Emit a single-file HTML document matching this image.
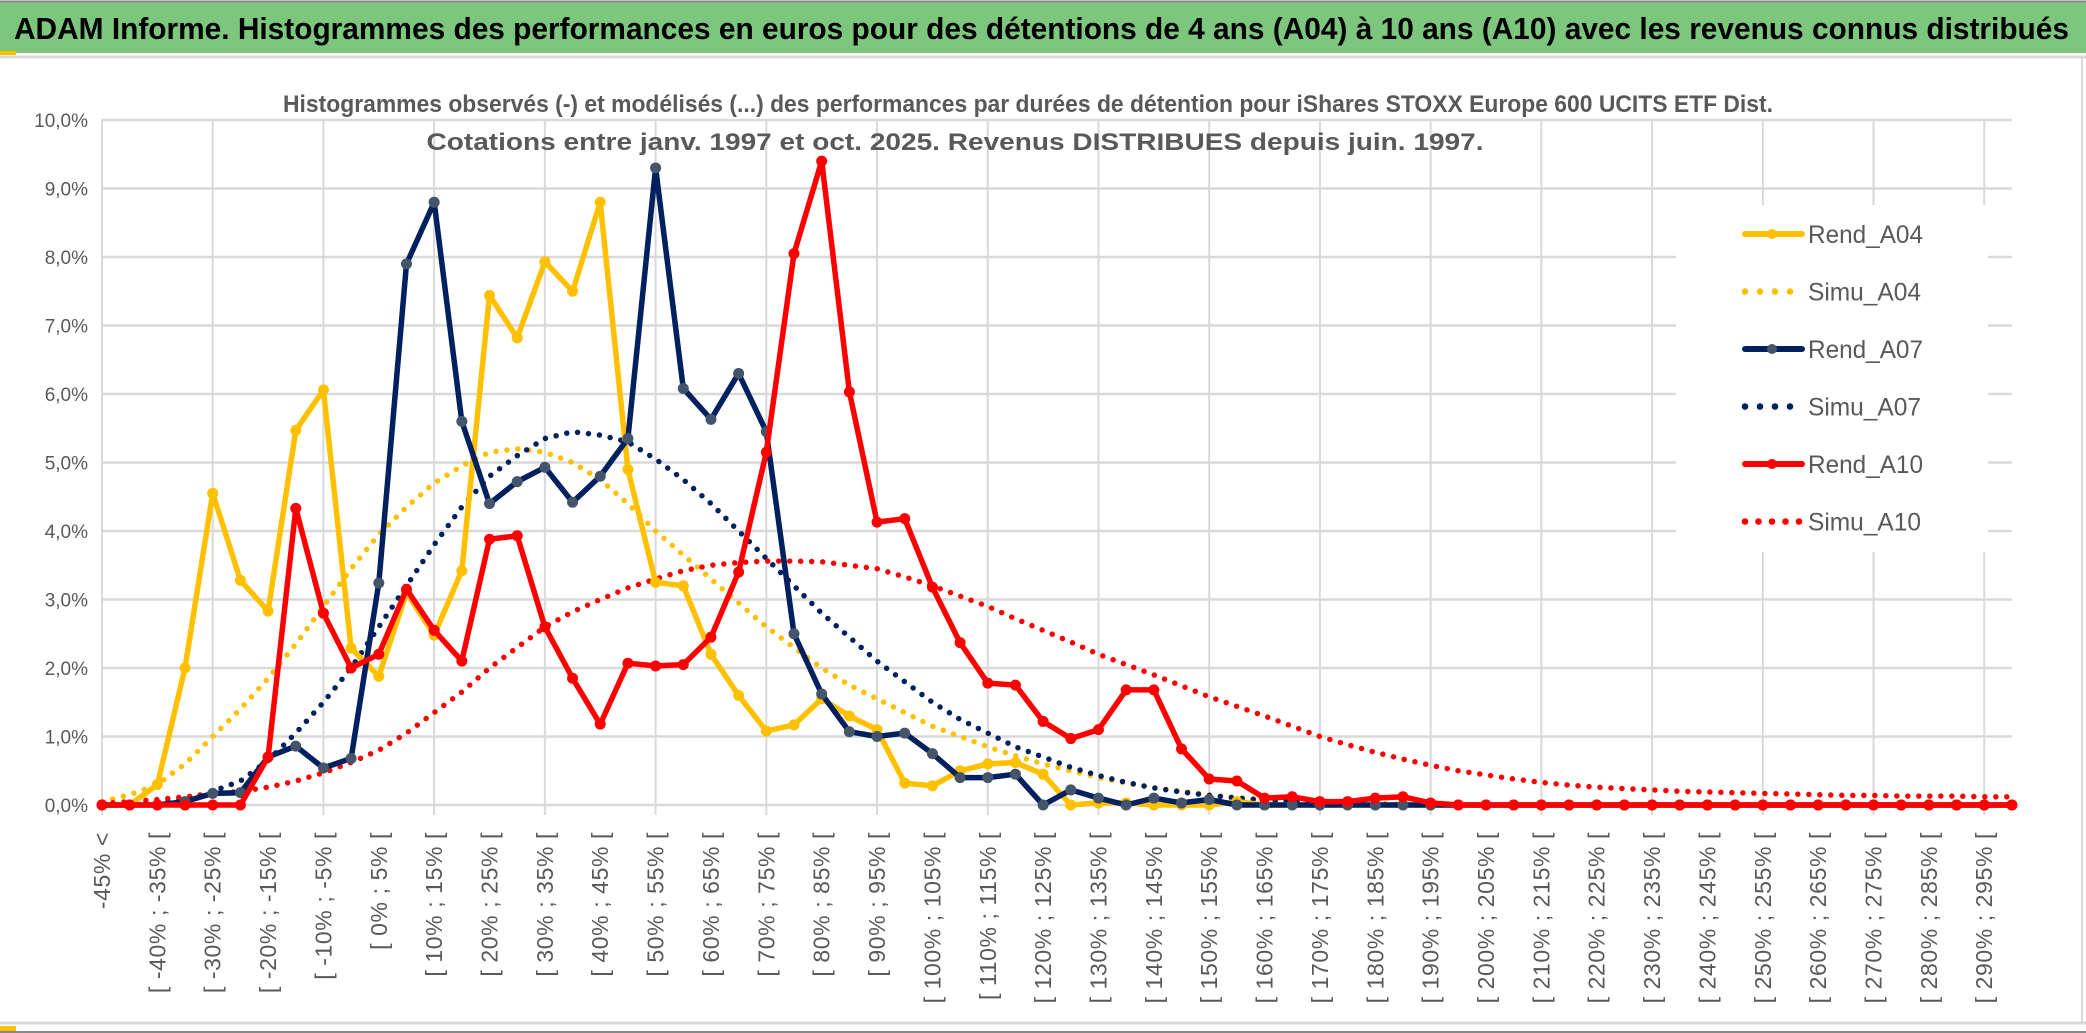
<!DOCTYPE html>
<html><head><meta charset="utf-8"><style>
html,body{margin:0;padding:0;background:#fff;width:2086px;height:1033px;overflow:hidden}
svg{display:block;font-family:"Liberation Sans",sans-serif}
</style></head><body>
<svg id="chart" width="2086" height="1033" viewBox="0 0 2086 1033">
<rect x="0" y="0" width="2086" height="1033" fill="#fff"/>
<rect x="0" y="2" width="2086" height="51" fill="#7dc67e"/>
<line x1="0" y1="1.5" x2="2086" y2="1.5" stroke="#888" stroke-width="2"/>
<line x1="0" y1="57" x2="2086" y2="57" stroke="#d9d9d9" stroke-width="3"/>
<rect x="0" y="51" width="16" height="4" fill="#ffc000"/>
<text x="14" y="39" font-size="31" font-weight="bold" fill="#000" textLength="2055" lengthAdjust="spacingAndGlyphs">ADAM Informe. Histogrammes des performances en euros pour des détentions de 4 ans (A04) à 10 ans (A10) avec les revenus connus distribués</text>
<line x1="2082" y1="58" x2="2082" y2="1022" stroke="#d9d9d9" stroke-width="2"/>
<line x1="0" y1="1023" x2="2086" y2="1023" stroke="#d9d9d9" stroke-width="3"/>
<rect x="0" y="1026" width="16" height="6" fill="#ffc000"/>
<line x1="0" y1="1032" x2="2086" y2="1032" stroke="#888" stroke-width="2"/>
<g id="grid"></g>
<g id="series"></g>
<g id="axes"></g>
<text x="1028" y="112" font-size="24" font-weight="bold" fill="#595959" text-anchor="middle" textLength="1490" lengthAdjust="spacingAndGlyphs">Histogrammes observés (-) et modélisés (...) des performances par durées de détention pour iShares STOXX Europe 600 UCITS ETF Dist.</text>
<text x="955" y="150" font-size="24" font-weight="bold" fill="#595959" text-anchor="middle" textLength="1057" lengthAdjust="spacingAndGlyphs">Cotations entre janv. 1997 et oct. 2025. Revenus DISTRIBUES depuis juin. 1997.</text>
<g id="legend"></g>
</svg>
<script>
const NS="http://www.w3.org/2000/svg";
const rendA04=[0,0,0.3,2.0,4.55,3.28,2.83,5.47,6.06,2.29,1.88,3.1,2.48,3.42,7.44,6.82,7.93,7.5,8.8,4.9,3.25,3.2,2.2,1.6,1.08,1.17,1.55,1.3,1.1,0.32,0.28,0.5,0.6,0.62,0.45,0,0.03,0.03,0,0,0,0.05,0,0,0,0,0,0,0,0,0,0,0,0,0,0,0,0,0,0,0,0,0,0,0,0,0,0,0,0];
const simuA04=[0.05,0.15,0.3,0.6,1.0,1.4,1.85,2.35,2.9,3.45,3.95,4.35,4.7,4.95,5.15,5.2,5.15,5.0,4.75,4.4,4.0,3.65,3.3,2.95,2.6,2.3,2.0,1.75,1.55,1.35,1.15,1.0,0.85,0.72,0.6,0.5,0.4,0.32,0.25,0.2,0.15,0.11,0.08,0.06,0.04,0.03,0.02,0.01,0,0,0,0,0,0,0,0,0,0,0,0,0,0,0,0,0,0,0,0,0,0];
const rendA07=[0,0,0,0.05,0.17,0.18,0.7,0.86,0.54,0.68,3.24,7.9,8.8,5.6,4.4,4.72,4.93,4.42,4.8,5.35,9.3,6.08,5.63,6.3,5.45,2.5,1.62,1.07,1.0,1.05,0.75,0.4,0.4,0.45,0,0.22,0.1,0,0.1,0.03,0.08,0,0,0,0,0,0,0,0,0,0,0,0,0,0,0,0,0,0,0,0,0,0,0,0,0,0,0,0,0];
const simuA07=[0,0.01,0.03,0.08,0.2,0.35,0.65,1.05,1.5,2.0,2.6,3.2,3.8,4.35,4.8,5.1,5.35,5.45,5.4,5.3,5.05,4.75,4.4,4.0,3.6,3.2,2.8,2.45,2.1,1.8,1.5,1.25,1.05,0.85,0.7,0.55,0.43,0.33,0.25,0.19,0.14,0.1,0.07,0.05,0.03,0.02,0.01,0,0,0,0,0,0,0,0,0,0,0,0,0,0,0,0,0,0,0,0,0,0,0];
const rendA10=[0,0,0,0,0,0,0.7,4.33,2.8,2.0,2.2,3.15,2.55,2.1,3.88,3.93,2.6,1.85,1.18,2.07,2.03,2.05,2.45,3.4,5.15,8.05,9.4,6.03,4.13,4.18,3.18,2.37,1.78,1.75,1.22,0.97,1.1,1.68,1.68,0.82,0.38,0.35,0.1,0.12,0.05,0.05,0.1,0.12,0.03,0,0,0,0,0,0,0,0,0,0,0,0,0,0,0,0,0,0,0,0,0];
const simuA10=[0.02,0.05,0.08,0.12,0.16,0.2,0.26,0.35,0.47,0.62,0.8,1.05,1.35,1.65,2.0,2.3,2.6,2.82,3.0,3.17,3.3,3.42,3.5,3.54,3.56,3.56,3.55,3.5,3.45,3.33,3.2,3.05,2.9,2.72,2.55,2.38,2.2,2.05,1.9,1.74,1.58,1.44,1.3,1.15,1.0,0.88,0.77,0.67,0.58,0.5,0.44,0.38,0.33,0.29,0.26,0.24,0.22,0.2,0.19,0.18,0.17,0.16,0.15,0.14,0.14,0.13,0.13,0.13,0.12,0.12];
const yTicks=[0,1,2,3,4,5,6,7,8,9,10];
const yTickLabels=["0,0%","1,0%","2,0%","3,0%","4,0%","5,0%","6,0%","7,0%","8,0%","9,0%","10,0%"];
const N=70;
const X0=102,DX=27.68,Y0=805,DY=68.5;
function xs(i){return X0+i*DX;}
function ys(v){return Y0-v*DY;}
function mk(tag,attrs,parent){const e=document.createElementNS(NS,tag);for(const k in attrs)e.setAttribute(k,attrs[k]);parent.appendChild(e);return e;}
const grid=document.getElementById('grid'),series=document.getElementById('series'),axes=document.getElementById('axes'),legend=document.getElementById('legend');
const xR=xs(N-1);
yTicks.forEach((t,k)=>{
  const l=mk('line',{x1:X0,y1:ys(t),x2:xR,y2:ys(t),stroke:'#d9d9d9','stroke-width':2.5},grid);
  
  
  const tx=mk('text',{x:88,y:ys(t)+7,'font-size':19,fill:'#595959','text-anchor':'end'},axes);
  tx.textContent=yTickLabels[k];
  
  
});
for(let i=0;i<N;i+=4){
  const l=mk('line',{x1:xs(i),y1:ys(10),x2:xs(i),y2:Y0+10,stroke:'#d9d9d9','stroke-width':2},grid);
  
  
}
const lb=mk('rect',{x:1676,y:205,width:312,height:347,fill:'#fff'},grid);


function label(i){
  if(i===0)return "-45% <";
  const lo=-50+5*i;return "[ "+lo+"% ; "+(lo+5)+"% [";
}
for(let i=0;i<N;i+=2){
  const t=mk('text',{x:0,y:0,'font-size':23,'letter-spacing':0.6,fill:'#595959','text-anchor':'end',transform:'translate('+(xs(i)+8)+',832) rotate(-90)'},axes);
  t.textContent=label(i);
  
  
}
function pts(arr){return arr.map((v,i)=>xs(i).toFixed(1)+','+ys(v).toFixed(1)).join(' ');}
function dotted(arr,color,name){
  const p=mk('polyline',{points:pts(arr),fill:'none',stroke:color,'stroke-width':5.5,'stroke-linecap':'round','stroke-dasharray':'0 11'},series);
  
  
}
function solid(arr,color,mcolor,name){
  const g=mk('g',{},series);
  
  
  mk('polyline',{points:pts(arr),fill:'none',stroke:color,'stroke-width':5.5,'stroke-linejoin':'round'},g);
  arr.forEach((v,i)=>{
    const c=mk('circle',{cx:xs(i),cy:ys(v),r:5.5,fill:mcolor},g);
    
    
  });
}
dotted(simuA04,'#ffc000','simu-a04-line');
dotted(simuA07,'#002060','simu-a07-line');
dotted(simuA10,'#ff0000','simu-a10-line');
solid(rendA04,'#ffc000','#ffc000','rend-a04-line');
solid(rendA07,'#002060','#44546a','rend-a07-line');
solid(rendA10,'#ff0000','#ff0000','rend-a10-line');
const legItems=[["Rend_A04",'#ffc000','#ffc000',false],["Simu_A04",'#ffc000',null,true],["Rend_A07",'#002060','#44546a',false],["Simu_A07",'#002060',null,true],["Rend_A10",'#ff0000','#ff0000',false],["Simu_A10",'#ff0000',null,true]];
legItems.forEach((it,k)=>{
  const y=234+k*57.5;
  const g=mk('g',{},legend);
  
  
  if(it[3]){
    const n=it[0]==="Simu_A10"?5:4;
    for(let j=0;j<n;j++)mk('circle',{cx:1745+j*(it[0]==="Simu_A10"?13.5:15),cy:y,r:3.3,fill:it[1]},g);
  } else {
    mk('line',{x1:1745,y1:y,x2:1802,y2:y,stroke:it[1],'stroke-width':6,'stroke-linecap':'round'},g);
    mk('circle',{cx:1772,cy:y,r:5,fill:it[2]},g);
  }
  const t=mk('text',{x:1808,y:y+9,'font-size':25,fill:'#595959',textLength:(it[0].startsWith('Rend')?115:113),lengthAdjust:'spacingAndGlyphs'},g);
  t.textContent=it[0];
});
</script>
</body></html>
